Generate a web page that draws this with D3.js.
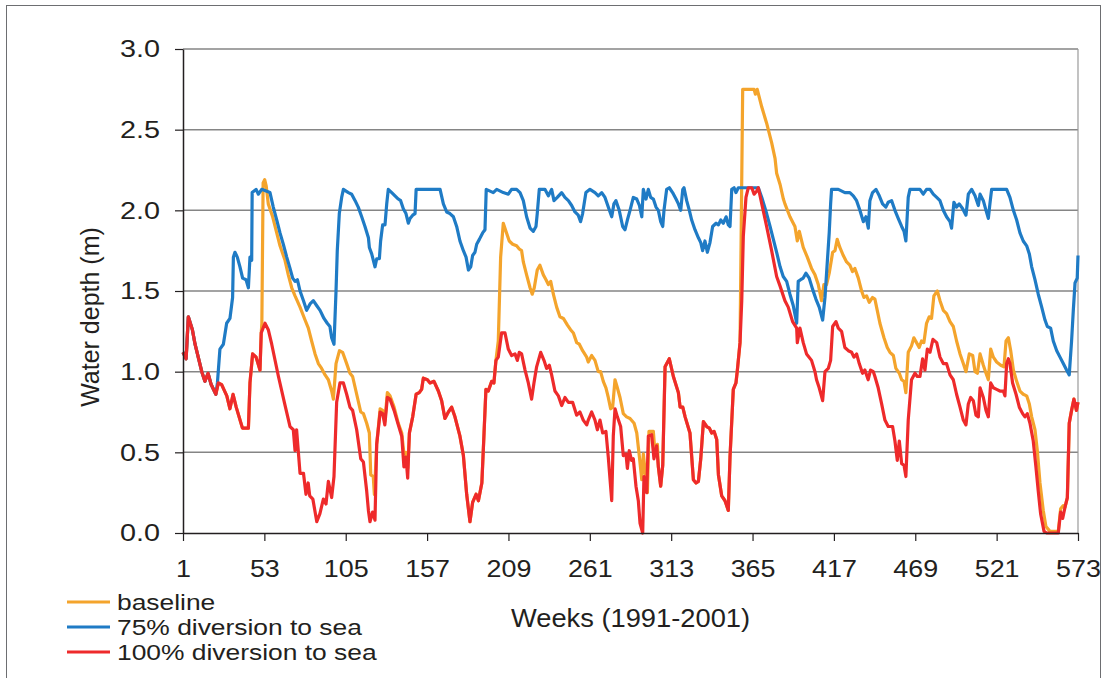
<!DOCTYPE html>
<html>
<head>
<meta charset="utf-8">
<script src="https://cdn.jsdelivr.net/npm/d3@7/dist/d3.min.js"></script>
<style>
  body { margin: 0; background: #fff; }
  text { font-family: "Liberation Sans", Arial, sans-serif; fill: #231f20; }
</style>
</head>
<body>
<div class="chart-depth"></div>
<script>
// week ticks and depth ticks
const xTicks = [1, 53, 105, 157, 209, 261, 313, 365, 417, 469, 521, 573];
const yTicks = [0, 0.5, 1.0, 1.5, 2.0, 2.5, 3.0];
const seriesNames = [`baseline`, `75% diversion to sea`, `100% diversion to sea`];

// [week, water depth m]
const baseline = [
  [1,1.12],[3,1.08],[4.4,1.34],[7,1.26],[8.7,1.17],[13,1.0],[15,0.94],[17,0.99],[19,0.92],[22,0.86],
  [23.6,0.93],[25.7,0.92],[29,0.85],[31,0.77],[33,0.86],[35,0.78],[39,0.65],[42.8,0.65],[43.8,0.93],
  [45.5,1.11],[47.7,1.09],[50.2,1.01],[51,1.24],[51.4,1.3],[52.2,2.17],[53.2,2.19],[54.2,2.15],
  [55.5,2.04],[58.3,1.96],[60.9,1.86],[63,1.78],[66.2,1.69],[68.3,1.60],[70.5,1.52],[72.6,1.47],
  [75.8,1.40],[79,1.32],[81.1,1.27],[83.2,1.19],[85.4,1.11],[87.5,1.05],[89.6,1.02],[91.8,0.98],
  [93.9,0.95],[96,0.88],[97.1,0.83],[98.8,1.05],[101,1.13],[103,1.12],[105.6,1.05],[107.7,0.99],
  [109.4,0.97],[112,0.86],[114.6,0.75],[116.3,0.74],[118.4,0.68],[120.1,0.62],[121,0.36],[122.6,0.35],
  [123.3,0.24],[124.8,0.55],[127,0.77],[128.6,0.76],[130,0.69],[131.6,0.87],[133.3,0.85],[135.9,0.78],
  [138.6,0.68],[140.8,0.62],[142.2,0.49],[143.5,0.50],[144.6,0.40],[145.7,0.62],[147.8,0.72],[150,0.86],
  [152,0.87],[153.5,0.89],[154.6,0.96],[157.2,0.95],[158.9,0.93],[161.4,0.94],[164.2,0.88],[166.3,0.82],
  [168.4,0.71],[170.6,0.75],[172.7,0.78],[174.8,0.72],[178,0.60],[180.2,0.48],[182.3,0.24],[184.4,0.07],
  [186.1,0.19],[188.3,0.24],[189.8,0.20],[192,0.31],[193.4,0.62],[194.6,0.89],[196.1,0.88],[198.3,0.94],
  [199.7,0.93],[201,1.07],[202.5,1.19],[204,1.71],[205.7,1.92],[207.4,1.87],[209.5,1.81],[211.7,1.79],
  [214.2,1.78],[215.9,1.76],[217.4,1.75],[218.5,1.68],[220.6,1.60],[222.8,1.52],[224.2,1.48],[225.5,1.52],
  [227.4,1.63],[229.1,1.66],[231.3,1.60],[233,1.57],[234.5,1.54],[236,1.56],[237.7,1.48],[239.8,1.40],
  [241.9,1.34],[244.1,1.33],[246.6,1.29],[248.7,1.26],[250.5,1.24],[252.6,1.18],[254.3,1.17],[256.4,1.13],
  [259,1.09],[260,1.06],[262.2,1.10],[264.3,1.07],[266.4,1.0],[267.9,1.0],[269.6,0.94],[271.3,0.90],
  [272.8,0.84],[274.3,0.77],[275.6,0.78],[277.1,0.95],[278.6,0.90],[280.3,0.84],[282.4,0.74],[284.5,0.72],
  [286.7,0.71],[289.3,0.68],[291,0.62],[292.7,0.47],[294.2,0.33],[295.2,0.49],[296.3,0.39],[297.8,0.25],
  [298.8,0.63],[301.6,0.63],[302.7,0.49],[304.2,0.55],[304.8,0.41],[306.3,0.29],[307.6,0.42],[309.1,1.03],
  [311.8,1.08],[314.4,0.97],[317.6,0.87],[318.7,0.78],[320.4,0.78],[321.9,0.72],[325,0.62],[327.2,0.33],
  [328.9,0.31],[330.4,0.32],[331.9,0.46],[333.6,0.69],[335.7,0.66],[337.4,0.65],[338.9,0.62],[340.4,0.63],
  [342.1,0.58],[343.2,0.36],[345.3,0.23],[347.4,0.20],[349.5,0.14],[350.6,0.47],[352.7,0.89],[354.4,0.93],
  [355.3,1.01],[357,1.18],[358.7,2.75],[366,2.75],[366.8,2.72],[368,2.75],[370.9,2.64],[374,2.54],
  [377.2,2.42],[379.4,2.32],[380.4,2.23],[382.6,2.16],[384.7,2.07],[385.7,2.04],[388.9,1.96],[392.1,1.90],
  [393.6,1.81],[394.9,1.87],[397.4,1.77],[400,1.71],[402.7,1.64],[404.9,1.60],[407,1.54],[409.1,1.44],
  [410.6,1.54],[412.3,1.54],[414,1.61],[416.2,1.74],[417.7,1.75],[419.1,1.82],[420.8,1.77],[423,1.72],
  [425.1,1.68],[427.2,1.66],[428.9,1.62],[430.4,1.64],[432.6,1.58],[434.7,1.50],[436.2,1.46],[437.9,1.47],
  [439.6,1.43],[441.7,1.46],[443.2,1.45],[444.7,1.38],[446.4,1.30],[449,1.21],[451.1,1.15],[452.8,1.12],
  [455,1.10],[456.6,1.02],[458.8,0.99],[460.3,0.95],[461.8,0.94],[463,0.87],[464.5,1.12],[466.6,1.16],
  [468.1,1.21],[469.8,1.18],[471.5,1.15],[473,1.19],[474.5,1.18],[476.2,1.30],[477.9,1.34],[479.4,1.33],
  [480.9,1.47],[483.1,1.50],[484.8,1.44],[486.9,1.38],[489,1.36],[491.2,1.31],[493.3,1.28],[495.4,1.19],
  [497.6,1.11],[499.7,1.05],[501.4,1.0],[503.5,1.11],[505.7,1.10],[507.2,1.0],[508.7,0.99],[510.4,1.11],
  [512.5,1.04],[514.2,0.99],[515.7,0.95],[517.2,1.14],[518.9,1.09],[521,1.06],[523.6,1.04],[525.7,1.03],
  [527,1.19],[528.5,1.21],[530,1.13],[531.7,1.01],[533.8,0.94],[535.9,0.88],[538,0.86],[540.2,0.85],
  [541.9,0.80],[543.4,0.72],[545.5,0.64],[547,0.51],[548.7,0.31],[550.8,0.14],[552.5,0.04],[555.1,0.01],
  [560.4,0.01],[561.9,0.15],[563.6,0.17],[564.7,0.16],[566.2,0.22],[567.4,0.68],[568.9,0.76],[570.4,0.83],
  [572,0.76],[573,0.81]
];

const diversion75 = [
  [1,1.12],[3,1.08],[4.4,1.34],[7,1.26],[8.7,1.17],[13,1.0],[15,0.94],[17,0.99],[19,0.92],[22,0.86],
  [23,0.93],[24.6,1.14],[26.8,1.17],[28.9,1.30],[31,1.33],[32.7,1.46],[33.2,1.71],[34.2,1.74],[35.7,1.71],
  [37.4,1.65],[39.1,1.58],[41.3,1.57],[42.8,1.52],[43.8,1.71],[44.9,1.69],[45.2,2.11],[47.7,2.13],
  [49.2,2.10],[51.3,2.13],[56.6,2.11],[58.7,2.02],[60.9,1.94],[63,1.86],[65.1,1.79],[67.3,1.71],
  [69.4,1.64],[71.1,1.58],[72.6,1.56],[74.1,1.57],[75.8,1.50],[78,1.44],[80,1.38],[82.2,1.42],[84.3,1.44],
  [86.4,1.41],[88.6,1.38],[91.1,1.33],[93.2,1.30],[94.9,1.28],[96,1.21],[97.5,1.17],[98.8,1.50],
  [99.6,1.75],[100.9,1.98],[102.4,2.08],[103.5,2.13],[106.7,2.11],[108.8,2.10],[111,2.06],[113,2.02],
  [115.2,1.96],[117.3,1.90],[119.5,1.83],[120.1,1.77],[121.6,1.73],[123.7,1.65],[124.8,1.70],[126.5,1.70],
  [127.3,1.81],[128.6,1.91],[130.1,1.91],[131.2,2.04],[132.2,2.13],[134.4,2.11],[136.5,2.09],[138.6,2.07],
  [140.1,2.06],[141.8,2.01],[143.5,1.98],[145,1.92],[146.1,1.95],[147.8,1.97],[149.3,1.98],[150,2.13],
  [165.3,2.13],[167.4,2.04],[169.5,1.99],[171.6,1.98],[173.8,1.96],[175.9,1.90],[178,1.81],[180.2,1.75],
  [181.9,1.71],[183.4,1.63],[184.9,1.65],[186.1,1.72],[187.6,1.74],[188.7,1.79],[190.4,1.82],[192.5,1.86],
  [194,1.88],[194.8,2.13],[199.3,2.11],[201.5,2.13],[205.7,2.11],[208.9,2.10],[211,2.13],[214.2,2.13],
  [216.4,2.11],[218.5,2.06],[220.6,1.96],[222.8,1.89],[224.9,1.87],[226.6,1.90],[227.4,1.98],[228.7,2.13],
  [232.3,2.13],[234.5,2.09],[236.6,2.13],[238.1,2.06],[240.2,2.08],[243,2.11],[245.1,2.08],[247.3,2.06],
  [249.4,2.03],[251.5,1.99],[253.6,1.97],[255.1,1.93],[256.4,1.98],[258.5,2.11],[261.1,2.13],[264.3,2.11],
  [266.4,2.09],[268.6,2.11],[270.7,2.08],[272.8,2.02],[275,1.96],[276.4,2.04],[277.7,2.06],[279.8,2.00],
  [282,1.90],[283.5,1.88],[285,1.94],[286.7,2.00],[288.8,2.08],[291,2.07],[292.7,2.03],[294.2,1.96],
  [295.2,2.13],[296.9,2.07],[298.4,2.13],[299.9,2.08],[301.6,2.07],[303.3,2.02],[304.8,2.00],[306.3,1.93],
  [307.6,1.90],[308.4,2.00],[310.1,2.13],[311.8,2.14],[313.9,2.11],[316.1,2.07],[317.6,2.04],[319.1,2.00],
  [320.4,2.13],[321.2,2.14],[322.9,2.06],[324.6,2.00],[326.1,1.94],[328.2,1.88],[330.4,1.83],[331.9,1.80],
  [333.1,1.75],[334.6,1.81],[336.1,1.74],[337.8,1.80],[339.5,1.90],[341.7,1.92],[343.2,1.91],[344.7,1.94],
  [346.3,1.92],[348.1,1.96],[349.5,1.91],[350.6,1.90],[351.7,2.13],[353.2,2.14],[354.4,2.11],[355.9,2.14],
  [368.7,2.14],[370.9,2.08],[374,1.98],[376.2,1.90],[378.3,1.82],[380.4,1.74],[382.6,1.65],[384.6,1.59],
  [386.8,1.56],[388.9,1.48],[391,1.41],[393.2,1.30],[394.2,1.56],[395.7,1.57],[397.4,1.58],[399.1,1.61],
  [401.2,1.58],[403.4,1.51],[405.5,1.45],[407.6,1.40],[409.8,1.32],[411.3,1.46],[412.3,1.61],[414,1.86],
  [414.9,2.04],[415.5,2.13],[419.8,2.13],[424,2.11],[427.2,2.11],[429.4,2.09],[431.5,2.06],[433.6,2.00],
  [435.8,1.93],[437.5,1.96],[439,1.89],[440,2.06],[441.7,2.11],[443.9,2.13],[446,2.09],[448.1,2.04],
  [450.2,2.02],[451.7,2.05],[453.9,2.06],[456,2.00],[458.1,1.95],[460.3,1.90],[461.8,1.87],[463,1.81],
  [464.5,2.08],[465.6,2.13],[472,2.13],[474.1,2.10],[476.2,2.13],[478.4,2.13],[480.5,2.10],[482.7,2.08],
  [484.8,2.06],[486.9,2.00],[489,1.96],[491.2,1.93],[492.2,1.89],[493.7,2.05],[495.4,2.02],[497.1,2.04],
  [499.3,2.01],[501.4,1.97],[502.9,2.10],[505,2.13],[507.2,2.09],[509.3,2.03],[510.4,2.10],[512.5,2.06],
  [514.2,2.00],[515.7,1.95],[516.7,2.04],[517.8,2.13],[527.4,2.13],[529.5,2.08],[531.7,2.00],[533.8,1.94],
  [535.9,1.86],[538,1.81],[540.2,1.78],[541.9,1.73],[543.4,1.65],[545.5,1.57],[547.6,1.48],[549.8,1.40],
  [551.9,1.32],[553.4,1.28],[555.5,1.27],[557.2,1.19],[559.4,1.13],[561.5,1.09],[563.6,1.05],[565.7,1.01],
  [567.4,0.98],[568.9,1.19],[570,1.38],[571.1,1.55],[572.5,1.58],[573,1.72]
];

const diversion100 = [
  [1,1.12],[3,1.08],[4.4,1.34],[7,1.26],[8.7,1.17],[13,1.0],[15,0.94],[17,0.99],[19,0.92],[22,0.86],
  [23.6,0.93],[25.7,0.92],[29,0.85],[31,0.77],[33,0.86],[35,0.78],[39,0.65],[42.8,0.65],[43.8,0.93],
  [45.5,1.11],[47.7,1.09],[50.2,1.01],[51,1.24],[53.4,1.30],[55.5,1.26],[57.7,1.17],[62,0.97],[66,0.80],
  [69.4,0.66],[71.5,0.64],[72.6,0.51],[73.6,0.64],[75.8,0.37],[78,0.37],[79.6,0.24],[81,0.31],[82,0.23],
  [84,0.21],[86.5,0.07],[88.5,0.12],[90.7,0.21],[92.4,0.18],[93.9,0.32],[96,0.22],[97.5,0.35],[99.2,0.81],
  [101.3,0.93],[103.5,0.93],[105.6,0.86],[107.7,0.78],[109.4,0.76],[112,0.64],[114.6,0.46],[116.3,0.44],
  [118.4,0.26],[119.5,0.14],[120.5,0.07],[122.2,0.13],[123.7,0.08],[124.8,0.55],[127,0.75],[128.6,0.74],
  [130,0.67],[131.6,0.84],[133.3,0.83],[135.9,0.76],[138.6,0.67],[140.8,0.60],[142.2,0.41],[143.5,0.47],
  [144.6,0.34],[145.7,0.62],[147.8,0.72],[150,0.86],[152,0.87],[153.5,0.89],[154.6,0.96],[157.2,0.95],
  [158.9,0.93],[161.4,0.94],[164.2,0.88],[166.3,0.82],[168.4,0.71],[170.6,0.75],[172.7,0.78],[174.8,0.72],
  [178,0.60],[180.2,0.48],[182.3,0.24],[184.4,0.07],[186.1,0.19],[188.3,0.24],[189.8,0.20],[192,0.31],
  [193.4,0.62],[194.6,0.89],[196.1,0.88],[198.3,0.94],[199.7,0.93],[201,1.07],[202.5,1.09],[204.6,1.24],
  [206.8,1.24],[208.9,1.14],[211,1.10],[213.2,1.11],[214.7,1.07],[215.9,1.12],[217.4,1.11],[219.6,1.01],
  [221.7,0.93],[223.8,0.83],[225.3,0.93],[227,1.03],[229.6,1.12],[231.7,1.07],[233.4,1.02],[235.1,1.04],
  [236.6,0.98],[238.7,0.88],[240.9,0.85],[243,0.79],[245.1,0.84],[247.3,0.81],[250,0.81],[252.6,0.73],
  [254.7,0.75],[256.8,0.70],[259,0.67],[260,0.70],[262.2,0.75],[264.3,0.70],[265.8,0.64],[267.5,0.70],
  [269.2,0.62],[271.3,0.63],[272.8,0.47],[275,0.20],[276,0.60],[277.1,0.77],[278.6,0.72],[280.7,0.66],
  [282.4,0.48],[284.1,0.49],[285,0.40],[286.2,0.51],[287.7,0.45],[288.8,0.46],[290.5,0.29],[292,0.20],
  [293.1,0.06],[294.8,0.0],[295.6,0.35],[297.4,0.25],[298.4,0.60],[300.5,0.61],[302,0.46],[303.7,0.54],
  [304.8,0.41],[306.3,0.29],[307.6,0.42],[309.1,1.03],[311.8,1.08],[314.4,0.97],[317.6,0.87],[318.7,0.78],
  [320.4,0.78],[321.9,0.72],[325,0.62],[327.2,0.33],[328.9,0.31],[330.4,0.32],[331.9,0.46],[333.6,0.69],
  [335.7,0.66],[337.4,0.65],[338.9,0.62],[340.4,0.63],[342.1,0.58],[343.2,0.36],[345.3,0.23],[347.4,0.20],
  [349.5,0.14],[350.6,0.47],[352.7,0.89],[354.4,0.93],[355.3,1.01],[357,1.18],[358.1,1.44],[359.1,1.84],
  [360.8,2.08],[362.3,2.14],[364.5,2.14],[366,2.10],[367.7,2.12],[368.7,2.14],[370.9,2.04],[374,1.90],
  [377.2,1.75],[380.4,1.59],[382.6,1.53],[385.7,1.44],[387.8,1.40],[390.6,1.31],[393.2,1.27],[393.6,1.18],
  [395.3,1.27],[397.4,1.18],[399.5,1.11],[402.7,1.07],[404.9,1.0],[405.9,0.95],[407.6,0.90],[409.8,0.82],
  [411.3,1.0],[413.4,1.02],[414.9,1.07],[416.2,1.28],[418.3,1.31],[419.8,1.27],[421.9,1.25],[424,1.15],
  [426.2,1.13],[428.3,1.12],[429.8,1.09],[431.5,1.11],[433.2,1.05],[435.3,0.99],[436.8,1.01],[438.9,0.95],
  [440.4,1.01],[442.2,1.0],[443.2,0.97],[445.3,0.90],[447.5,0.80],[449.6,0.70],[451.7,0.66],[454.5,0.66],
  [456,0.57],[457.5,0.45],[458.8,0.57],[460.3,0.43],[461.8,0.42],[463,0.35],[464.5,0.70],[466.6,0.95],
  [468.8,0.99],[470.3,0.97],[472,0.97],[473.7,1.08],[475.2,1.01],[476.7,1.14],[478.4,1.12],[480.3,1.20],
  [482.7,1.18],[484.8,1.09],[486.9,1.05],[489,1.05],[491.2,0.98],[493.3,0.95],[495.4,0.86],[497.6,0.78],
  [499.7,0.70],[501.4,0.67],[502.9,0.80],[504.4,0.84],[506.1,0.82],[507.8,0.73],[509.3,0.72],[510.4,0.90],
  [512.5,0.84],[514.2,0.76],[515.7,0.72],[517.2,0.93],[518.9,0.90],[521,0.89],[523.1,0.88],[525.3,0.88],
  [526.3,0.85],[527.4,1.05],[528.5,1.08],[529.5,1.05],[531.2,0.93],[533.4,0.86],[535.5,0.78],[537.6,0.74],
  [539.1,0.72],[540.6,0.74],[542.3,0.68],[544.4,0.57],[546.1,0.41],[547.6,0.26],[549.1,0.12],[551.3,0.01],
  [553,0],[560.4,0],[561.9,0.13],[563.2,0.09],[564.7,0.16],[566.2,0.22],[567.4,0.68],[568.9,0.76],
  [570.4,0.83],[572,0.76],[573,0.81]
];

const colors = [`#f4a42c`, `#1f7bc5`, `#ee2a2b`];

const margin = { top: 49, right: 29, bottom: 145, left: 183 };
const totalW = 1107;
const totalH = 678;
const width = totalW - margin.left - margin.right;
const height = totalH - margin.top - margin.bottom;
// the original text is a little wider than Arial
const stretch = 1.12;

const x = d3.scaleLinear().domain([1, 573]).range([0, width]);
const y = d3.scaleLinear().domain([0, 3]).range([height, 0]);

const svg = d3.select(`.chart-depth`).append(`svg`)
    .attr(`width`, totalW)
    .attr(`height`, totalH);

// outer frame
svg.append(`rect`)
  .attr(`x`, 6.5).attr(`y`, 5.5)
  .attr(`width`, 1094).attr(`height`, 700)
  .attr(`fill`, `none`)
  .attr(`stroke`, `#6d6e71`)
  .attr(`stroke-width`, 1);

const g = svg.append(`g`)
    .attr(`transform`, `translate(${margin.left}, ${margin.top})`);

// gridlines
g.selectAll(`.grid`)
  .data(yTicks.filter(d => d > 0))
  .enter().append(`line`)
    .attr(`class`, `grid`)
    .attr(`x1`, 0).attr(`x2`, width)
    .attr(`y1`, d => y(d)).attr(`y2`, d => y(d))
    .attr(`stroke`, `#858585`)
    .attr(`stroke-width`, 1.5);

// right edge of plot area
g.append(`line`)
  .attr(`x1`, width).attr(`x2`, width)
  .attr(`y1`, 0).attr(`y2`, height)
  .attr(`stroke`, `#9a9a9a`)
  .attr(`stroke-width`, 1.2);

const line = d3.line()
  .x(d => x(d[0]))
  .y(d => y(d[1]));

[baseline, diversion75, diversion100].forEach((s, i) => {
  g.append(`path`)
    .datum(s)
    .attr(`fill`, `none`)
    .attr(`stroke`, colors[i])
    .attr(`stroke-width`, 3.2)
    .attr(`stroke-linejoin`, `round`)
    .attr(`d`, line);
});

// add the x Axis
const xAxis = g.append(`g`)
    .attr(`transform`, `translate(0,${height})`)
    .call(d3.axisBottom(x).tickValues(xTicks).tickSize(8).tickPadding(19).tickSizeOuter(0));

// add the y Axis
const yAxis = g.append(`g`)
    .call(d3.axisLeft(y).tickValues(yTicks).tickFormat(d3.format(`.1f`)).tickSize(8).tickPadding(15).tickSizeOuter(0));

[xAxis, yAxis].forEach(a => {
  a.select(`.domain`).attr(`stroke`, `#231f20`).attr(`stroke-width`, 1.5);
  a.selectAll(`.tick line`).attr(`stroke`, `#231f20`).attr(`stroke-width`, 1.2);
  a.selectAll(`.tick text`)
    .attr(`fill`, `#231f20`)
    .style(`font-size`, `24px`)
    .style(`font-family`, `"Liberation Sans", Arial, sans-serif`);
});

// widen tick labels around their anchor
xAxis.selectAll(`.tick text`).attr(`transform`, `scale(${stretch},1)`);
yAxis.selectAll(`.tick text`)
  .attr(`x`, -23 / 1.2)
  .attr(`transform`, `scale(1.2,1)`);

// axis titles
svg.append(`text`)
  .attr(`transform`, `translate(${margin.left + width / 2}, 627) scale(1.05,1)`)
  .attr(`text-anchor`, `middle`)
  .style(`font-size`, `26px`)
  .text(`Weeks (1991-2001)`);

svg.append(`text`)
  .attr(`transform`, `translate(99, 317) rotate(-90)`)
  .attr(`text-anchor`, `middle`)
  .style(`font-size`, `25px`)
  .text(`Water depth (m)`);

// legend
const legend = svg.append(`g`)
    .attr(`transform`, `translate(67, 602)`);

seriesNames.forEach((name, i) => {
  const row = legend.append(`g`).attr(`transform`, `translate(0, ${i * 25})`);
  row.append(`line`)
    .attr(`x1`, 0).attr(`x2`, 43)
    .attr(`stroke`, colors[i])
    .attr(`stroke-width`, 3.2);
  row.append(`text`)
    .attr(`transform`, `translate(50, 0) scale(1.2,1)`)
    .attr(`dy`, `0.36em`)
    .style(`font-size`, `22px`)
    .text(name);
});
</script>
</body>
</html>
